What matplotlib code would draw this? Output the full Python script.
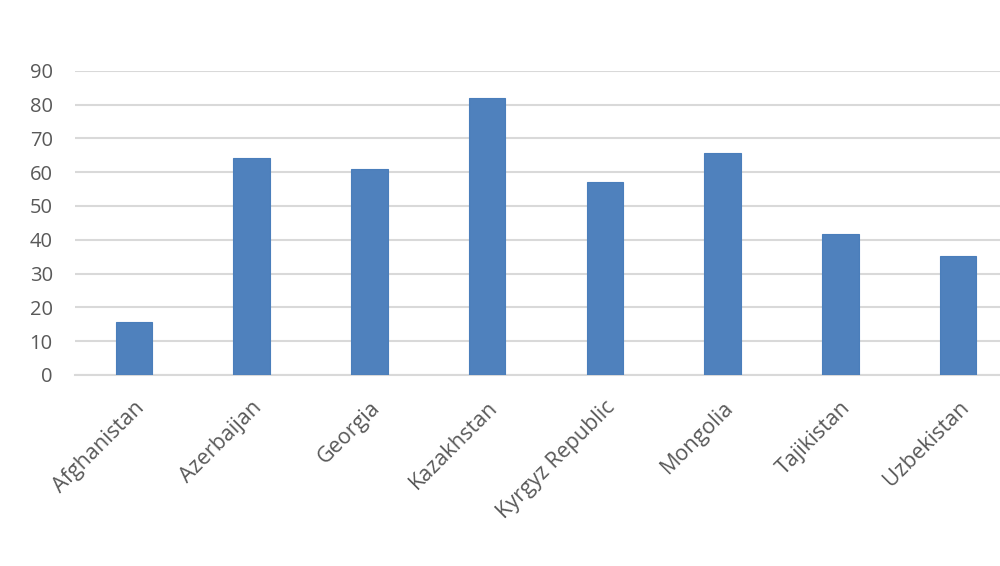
import matplotlib
matplotlib.use("Agg")
import matplotlib.pyplot as plt

countries = ["Afghanistan", "Azerbaijan", "Georgia", "Kazakhstan",
             "Kyrgyz Republic", "Mongolia", "Tajikistan", "Uzbekistan"]
values = [15.7, 64.3, 61.0, 81.8, 57.2, 65.6, 41.6, 35.2]
yticks = [0, 10, 20, 30, 40, 50, 60, 70, 80, 90]

plt.rcParams['font.family'] = ['Open Sans', 'DejaVu Sans']

fig = plt.figure(figsize=(10, 5.66), dpi=100)
ax = fig.add_axes([0.075, 0.3375, 0.942, 0.5375])

x = list(range(len(countries)))
ax.bar(x, values, width=0.31, color="#4F81BD", edgecolor="#4A7EBB", linewidth=0.8, zorder=3)

ax.set_xlim(-0.5, len(countries) - 0.5)
ax.set_ylim(0, 90)
ax.set_yticks(yticks)
ax.set_yticklabels([str(v) for v in yticks])
ax.set_xticks(x)
ax.set_xticklabels(countries, rotation=45, ha='right', rotation_mode='anchor')

ax.grid(axis='y', color='#D9D9D9', linewidth=1.5, zorder=0)
for s in ['top', 'right', 'left']:
    ax.spines[s].set_visible(False)
ax.spines['bottom'].set_color('#D9D9D9')
ax.spines['bottom'].set_linewidth(1.5)
ax.tick_params(axis='both', length=0, colors='#595959')
ax.tick_params(axis='y', pad=16, labelsize=14.5)
ax.tick_params(axis='x', pad=16, labelsize=15.5)

fig.savefig("out.png", dpi=100)
